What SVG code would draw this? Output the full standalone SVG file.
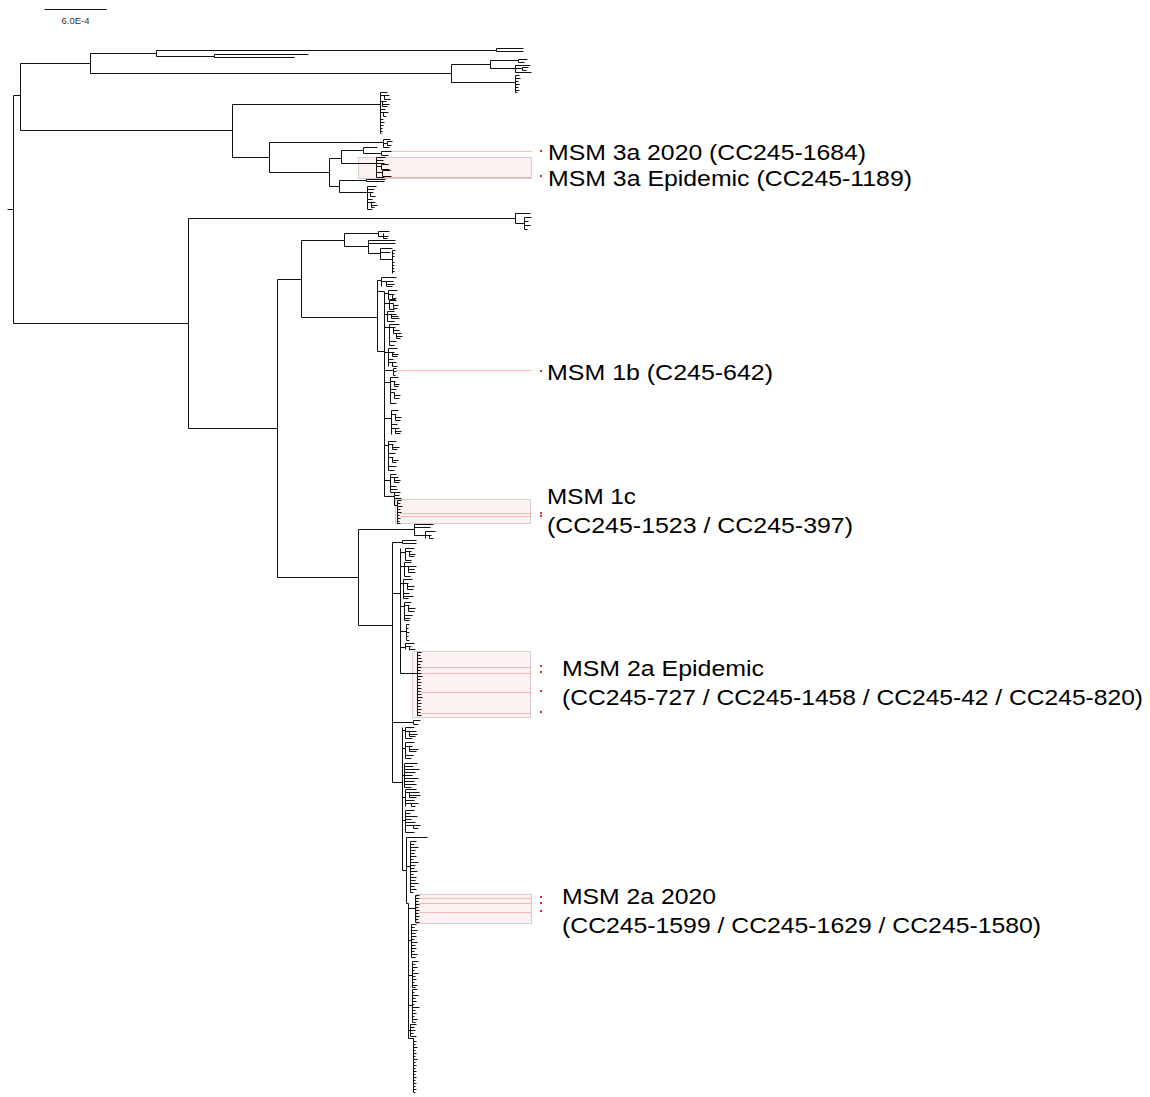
<svg xmlns="http://www.w3.org/2000/svg" width="1150" height="1097" viewBox="0 0 1150 1097">
<style>
.b{fill:none;stroke:#111;stroke-width:1}
.r{fill:none;stroke:#f07878;stroke-width:1;stroke-dasharray:1 1}
.box{fill:#fdf2f2;stroke:#d6cccc;stroke-width:1}
.dot{fill:#e8242b}
.lbl{font-family:"Liberation Sans",Arial,sans-serif;font-size:22px;fill:#000}
.sc{font-family:"Liberation Sans",Arial,sans-serif;font-size:9.5px;fill:#333}
</style>
<rect width="1150" height="1097" fill="#fff"/>
<g id="scale-bar" transform="translate(0.5,0.5)">
<path class="b" d="M44 9 H106"/>
<text class="sc" x="75" y="23" text-anchor="middle">6.0E-4</text>
</g>
<g id="highlight-boxes" transform="translate(0.5,0.5)">
<rect class="box" x="358" y="157" width="173" height="21"/>
<rect class="box" x="395" y="499" width="135" height="24"/>
<rect class="box" x="412" y="651" width="118" height="66"/>
<rect class="box" x="416" y="894" width="115" height="29"/>
</g>
<g id="connectors" transform="translate(0.5,0.5)">
<path id="backbone" class="b" d="M7 209 H13 M13 95 V323 M13 95 H20 M20 63 V130 M20 63 H90 M90 53 V73 M13 323 H188 M188 218 V428 M188 428 H277 M277 279 V577"/>
<g id="clade-outgroup-top">
<path class="b" d="M90 53 H156 M156 50 V56 M156 50 H496 M496 48 V51 M496 48 H523 M496 51 H523 M156 56 H214 M214 54 V57 M214 54 H308 M214 57 H294
M90 73 H451 M451 64 V82 M451 64 H490 M490 60 V68 M490 60 H518 M518 59 V62 M518 59 H527 M518 62 H524 M490 68 H515 M515 65 V72 M515 65 H530 M515 68 H522 M522 67 V70 M522 67 H528 M522 70 H526 M515 72 H531
M451 82 H515 M515 75 V92 M515 75 H519 M515 78 H520 M515 81 H518 M515 84 H519 M515 87 H518 M515 90 H519 M515 92 H517"/>
</g>
<g id="clade-3">
<path class="b" d="M20 130 H232 M232 104 V157 M232 104 H380
M380 92 V133 M380 92 H387 M380 95 H389 M384 95 V99 M384 99 H390 M380 101 H386 M382 101 V106 M382 104 H389 M382 106 H387 M380 109 H385 M380 112 H388 M383 112 V116 M383 116 H386 M380 119 H383 M380 122 H384 M380 125 H383 M380 128 H382 M380 131 H382 M380 133 H381
M232 157 H269 M269 142 V172 M269 142 H383 M383 139 V147 M383 139 H390 M383 143 H387 M387 141 V145 M387 141 H392 M387 145 H391 M383 147 H389
M269 172 H329 M329 158 V186 M329 158 H341 M341 150 V163 M341 150 H363 M363 147 V153 M363 147 H377 M363 153 H381 M381 151 V155 M381 151 H391 M381 155 H388
M341 163 H376 M376 157 V177 M376 157 H385 M376 160 H383 M376 163 H384 M376 166 H381 M381 164 V169 M381 164 H388 M381 169 H389 M376 172 H382 M382 170 V176 M382 170 H390 M382 176 H391 M376 177 H384
M329 186 H339 M339 180 V192 M339 180 H366 M366 179 V181 M366 179 H385 M366 181 H384 M339 192 H367
M367 186 V209 M367 186 H376 M367 189 H374 M367 192 H373 M370 192 V196 M370 196 H375 M367 199 H372 M367 202 H375 M371 202 V207 M371 205 H377 M371 207 H374 M367 209 H372"/>
</g>
<g id="clade-outgroup-mid">
<path class="b" d="M188 218 H515 M515 213 V223 M515 213 H530 M515 223 H524 M524 217 V229 M524 217 H531 M524 221 H528 M524 225 H530 M524 229 H527"/>
</g>
<g id="clade-1">
<path class="b" d="M277 279 H301 M301 240 V317 M301 240 H344 M344 233 V246 M344 233 H378 M378 231 V236 M378 231 H389 M378 236 H388 M383 233 V238 M383 238 H387
M344 246 H368 M368 240 V253 M368 240 H395 M368 243 H395 M368 253 H380 M380 248 V259 M380 248 H392 M380 252 H390 M380 259 H392 M392 250 V273 M392 250 H395 M392 253 H394 M392 256 H394 M392 262 H394 M392 265 H394 M392 268 H394 M392 271 H394
M301 317 H377 M377 280 V351 M377 280 H381 M381 277 V286 M381 277 H396 M381 281 H393 M386 281 V286 M386 284 H394 M386 286 H392
M377 291 H384 M377 351 H384 M384 291 V496
M384 293 H388 M388 290 V299 M388 290 H397 M388 294 H394 M392 294 V298 M392 298 H396 M388 299 H395
M384 303 H389 M389 300 V309 M389 300 H396 M389 303 H393 M393 303 V308 M393 305 H398 M393 308 H397 M389 309 H394
M384 314 H387 M387 311 V321 M387 311 H394 M387 314 H396 M391 314 V318 M391 316 H398 M391 318 H399 M387 321 H394
M384 327 H389 M389 324 V345 M389 324 H399 M389 327 H395 M393 327 V333 M393 330 H399 M393 333 H401 M396 333 V338 M396 336 H402 M396 338 H400 M389 341 H396 M389 345 H394
M384 352 H388 M388 348 V366 M388 348 H397 M388 352 H394 M392 352 V356 M392 354 H398 M392 356 H397 M388 359 H393 M388 362 H396 M392 362 V366 M392 366 H397
M384 370 H393 M393 368 V375 M393 368 H396 M393 371 H396 M393 375 H395
M384 382 H390 M390 377 V403 M390 377 H398 M390 381 H395 M394 381 V386 M394 384 H399 M394 386 H398 M390 389 H396 M390 392 H394 M394 392 V398 M394 395 H400 M394 398 H399 M390 403 H396
M384 418 H391 M391 410 V434 M391 410 H398 M391 414 H396 M395 414 V420 M395 417 H401 M395 420 H400 M391 424 H397 M391 428 H399 M395 428 V433 M395 431 H401 M395 433 H400
M384 445 H388 M388 441 V470 M388 441 H396 M388 444 H393 M392 444 V449 M392 447 H399 M392 449 H397 M388 453 H395 M388 457 H393 M392 457 V462 M392 460 H398 M392 462 H396 M388 466 H396 M388 470 H394
M384 480 H390 M390 474 V492 M390 474 H396 M390 477 H398 M394 477 V482 M394 480 H400 M394 482 H399 M390 486 H396 M390 489 H397 M390 492 H395
M384 496 H394 M394 492 V505 M394 492 H400 M394 495 H399 M394 498 H401 M394 505 H397 M397 500 V523 M397 500 H401 M397 503 H400 M397 506 H402 M397 509 H400 M397 512 H401 M397 515 H399 M397 518 H400 M397 521 H399 M397 523 H400"/>
</g>
<g id="clade-2">
<path class="b" d="M277 577 H358 M358 529 V625 M358 529 H414 M414 524 V535 M414 524 H433 M414 527 H430 M414 535 H425 M425 531 V538 M425 531 H435 M425 535 H431 M429 535 V538 M429 538 H433
M358 625 H392 M392 542 V782 M392 542 H402 M402 540 V543 M402 540 H416 M402 543 H416
M392 593 H400 M400 548 V673 M400 673 H417
M400 552 H405 M405 548 V560 M405 548 H414 M405 551 H411 M409 551 V556 M409 554 H415 M409 556 H414 M405 560 H411
M400 566 H404 M404 562 V576 M404 562 H411 M404 566 H416 M408 566 V572 M408 569 H414 M408 572 H415 M404 576 H410
M400 583 H403 M403 579 V598 M403 579 H412 M403 583 H408 M407 583 V589 M407 586 H414 M407 589 H413 M403 593 H409 M403 596 H413 M403 598 H408
M400 606 H404 M404 602 V620 M404 602 H411 M404 605 H409 M408 605 V611 M408 608 H415 M408 611 H414 M404 615 H412 M404 618 H410 M404 620 H409
M400 631 H406 M406 624 V640 M406 624 H409 M406 628 H408 M406 632 H409 M406 636 H408 M406 640 H409
M400 647 H405 M405 643 V649 M405 643 H414 M405 646 H411 M409 646 V650 M409 649 H415
M417 652 V715 M417 652 H421 M417 655 H420 M417 658 H421 M417 661 H422 M417 664 H420 M417 667 H421 M417 670 H420 M417 673 H421 M417 676 H422 M417 679 H420 M417 682 H421 M417 685 H420 M417 688 H421 M417 691 H420 M417 694 H421 M417 697 H422 M417 700 H420 M417 703 H421 M417 706 H420 M417 709 H421 M417 712 H420 M417 715 H421
M392 722 H413 M413 720 V724 M413 720 H420 M413 724 H418
M392 782 H402 M402 727 V870
M402 730 H405 M405 727 V738 M405 727 H414 M405 731 H416 M409 731 V736 M409 734 H417 M409 736 H415 M405 738 H412
M402 748 H405 M405 742 V758 M405 742 H414 M405 746 H412 M409 746 V751 M409 749 H418 M409 751 H416 M405 755 H413 M405 758 H411
M402 775 H404 M404 763 V787 M404 763 H417 M404 766 H413 M404 769 H419 M404 772 H415 M404 775 H412 M404 778 H418 M404 781 H414 M404 784 H416 M404 787 H411
M402 797 H405 M405 789 V806 M405 789 H416 M405 792 H409 M409 792 V797 M409 792 H419 M409 795 H420 M409 797 H416 M405 800 H414 M405 803 H411 M411 803 V806 M411 803 H418 M411 806 H415
M402 820 H405 M405 810 V832 M405 810 H414 M405 813 H410 M405 816 H417 M405 819 H411 M405 822 H415 M405 825 H413 M413 825 V828 M413 825 H420 M413 828 H418 M405 832 H414
M402 870 H406 M406 837 V903 M406 837 H427
M406 866 H410 M410 841 V892 M410 841 H416 M410 844 H414 M410 847 H418 M410 850 H415 M410 853 H414 M410 856 H416 M410 859 H413 M410 862 H418 M410 865 H415 M410 868 H414 M410 871 H417 M410 874 H413 M410 877 H416 M410 880 H415 M410 883 H418 M410 886 H414 M410 889 H416 M410 892 H413
M406 903 H408 M408 903 V1038
M408 908 H415 M415 895 V922 M415 895 H419 M415 898 H419 M415 901 H418 M415 904 H419 M415 907 H418 M415 910 H419 M415 913 H418 M415 916 H419 M415 919 H418 M415 922 H419
M408 940 H411 M411 924 V957 M411 924 H416 M411 927 H414 M411 930 H417 M411 933 H415 M411 936 H416 M411 939 H414 M411 942 H417 M411 945 H415 M411 948 H416 M411 951 H414 M411 954 H417 M411 957 H415
M408 975 H412 M412 961 V987 M412 961 H418 M412 964 H415 M412 967 H417 M412 970 H414 M412 973 H418 M412 976 H415 M412 979 H416 M412 982 H414 M412 985 H417 M412 987 H415
M408 1005 H412 M412 989 V1022 M412 989 H417 M412 992 H414 M412 995 H418 M412 998 H415 M412 1001 H416 M412 1004 H414 M412 1007 H419 M412 1010 H415 M412 1013 H416 M412 1016 H414 M412 1019 H417 M412 1022 H415
M408 1030 H410 M410 1024 V1036 M410 1024 H416 M410 1027 H414 M410 1030 H415 M410 1033 H413 M410 1036 H416
M408 1038 H413 M413 1038 V1092 M413 1041 H416 M413 1044 H415 M413 1047 H417 M413 1050 H415 M413 1053 H416 M413 1056 H415 M413 1059 H417 M413 1062 H415 M413 1065 H416 M413 1068 H415 M413 1071 H416 M413 1074 H415 M413 1077 H416 M413 1080 H415 M413 1083 H416 M413 1086 H415 M413 1089 H416 M413 1092 H415"/>
</g>
<g id="leader-lines">
<path class="r" d="M392 151 H531 M385 177 H531 M396 370 H531 M400 513 H531 M400 516 H531 M421 667 H531 M421 673 H531 M421 692 H531 M421 713 H531 M419 898 H531 M419 903 H531 M419 912 H531"/>
</g>
</g>
<g id="markers">
<rect class="dot" x="540" y="150" width="2" height="2"/>
<rect class="dot" x="540" y="175" width="2" height="2"/>
<rect class="dot" x="540" y="370" width="2" height="2"/>
<rect class="dot" x="540" y="512" width="2" height="2"/>
<rect class="dot" x="540" y="515" width="2" height="2"/>
<rect class="dot" x="540" y="665" width="2" height="2"/>
<rect class="dot" x="540" y="671" width="2" height="2"/>
<rect class="dot" x="540" y="690" width="2" height="2"/>
<rect class="dot" x="540" y="711" width="2" height="2"/>
<rect class="dot" x="540" y="896" width="2" height="2"/>
<rect class="dot" x="540" y="902" width="2" height="2"/>
<rect class="dot" x="540" y="910" width="2" height="2"/>
</g>
<g id="label-msm-3a">
<text class="lbl" x="548" y="160" textLength="318" lengthAdjust="spacingAndGlyphs">MSM 3a 2020 (CC245-1684)</text>
<text class="lbl" x="548" y="186" textLength="364" lengthAdjust="spacingAndGlyphs">MSM 3a Epidemic (CC245-1189)</text>
</g>
<g id="label-msm-1b">
<text class="lbl" x="547" y="380" textLength="226" lengthAdjust="spacingAndGlyphs">MSM 1b (C245-642)</text>
</g>
<g id="label-msm-1c">
<text class="lbl" x="547" y="504" textLength="89" lengthAdjust="spacingAndGlyphs">MSM 1c</text>
<text class="lbl" x="547" y="533" textLength="306" lengthAdjust="spacingAndGlyphs">(CC245-1523 / CC245-397)</text>
</g>
<g id="label-msm-2a-epidemic">
<text class="lbl" x="562" y="676" textLength="202" lengthAdjust="spacingAndGlyphs">MSM 2a Epidemic</text>
<text class="lbl" x="562" y="705" textLength="581" lengthAdjust="spacingAndGlyphs">(CC245-727 / CC245-1458 / CC245-42 / CC245-820)</text>
</g>
<g id="label-msm-2a-2020">
<text class="lbl" x="562" y="904" textLength="154" lengthAdjust="spacingAndGlyphs">MSM 2a 2020</text>
<text class="lbl" x="562" y="933" textLength="479" lengthAdjust="spacingAndGlyphs">(CC245-1599 / CC245-1629 / CC245-1580)</text>
</g>
</svg>
